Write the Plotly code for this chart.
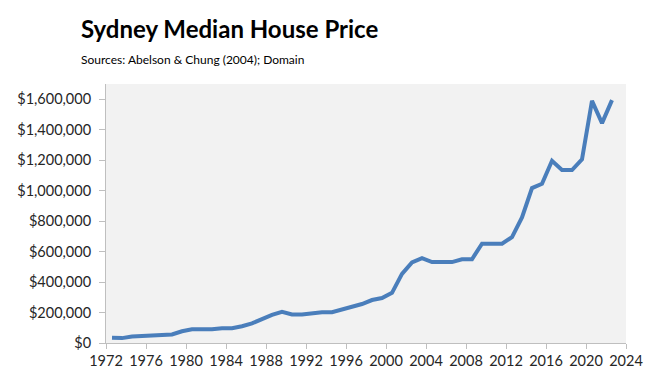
import plotly.graph_objects as go

years = list(range(1972, 2023))
prices = [34000, 32000, 43000, 45000, 49000, 49000, 56000, 77000, 90000, 90000,
          90000, 97000, 97000, 110000, 129000, 157000, 185000, 204000, 187000, 187000,
          196000, 202000, 202000, 219000, 241000, 256000, 282000, 295000, 329000, 454000,
          529000, 557000, 531000, 531000, 531000, 550000, 550000, 652000, 652000, 652000,
          695000, 824000, 1017000, 1045000, 1196000, 1135000, 1135000, 1206000, 1589000, 1443000,
          1594000]
x_ticks = list(range(1972, 2025, 4))
y_ticks = list(range(0, 1600001, 200000))
y_labels = ["${:,}".format(v) for v in y_ticks]

# points sit mid-year on the date axis
xpos = [y + 0.6 for y in years]

fig = go.Figure()
fig.add_trace(go.Scatter(x=xpos, y=prices, mode="lines",
                         line=dict(color="#4A7EBB", width=4), hoverinfo="skip"))

font = "Lato, Liberation Sans, Arial, sans-serif"
fig.update_layout(
    width=655, height=381,
    margin=dict(l=106, r=18, t=84, b=34),
    paper_bgcolor="white", plot_bgcolor="#F2F2F2",
    showlegend=False,
    font=dict(family=font, size=14.5, color="#262626"),
    xaxis=dict(range=[1972, 2024], tickvals=x_ticks, ticktext=[str(t) for t in x_ticks],
               showgrid=False, zeroline=False, showline=True, linecolor="#BFBFBF", linewidth=1,
               ticks="outside", ticklen=5, tickcolor="#BFBFBF", tickfont=dict(size=14.5)),
    yaxis=dict(range=[0, 1700000], tickvals=y_ticks, ticktext=y_labels,
               showgrid=False, zeroline=False, showline=True, linecolor="#BFBFBF", linewidth=1,
               ticks="outside", ticklen=6, tickcolor="#BFBFBF", tickfont=dict(size=14.5),
               ticklabelstandoff=5),
    annotations=[
        dict(text="<b>Sydney Median House Price</b>", xref="paper", yref="paper",
             x=-0.0527, y=1.213, xanchor="left", yanchor="middle", showarrow=False,
             font=dict(family=font, size=24, color="black")),
        dict(text="Sources: Abelson &amp; Chung (2004); Domain", xref="paper", yref="paper",
             x=-0.0527, y=1.095, xanchor="left", yanchor="middle", showarrow=False,
             font=dict(family=font, size=12, color="black")),
    ],
)
fig.write_html("out.html", config={"displayModeBar": False},
               post_script="document.body.style.margin='0';")
